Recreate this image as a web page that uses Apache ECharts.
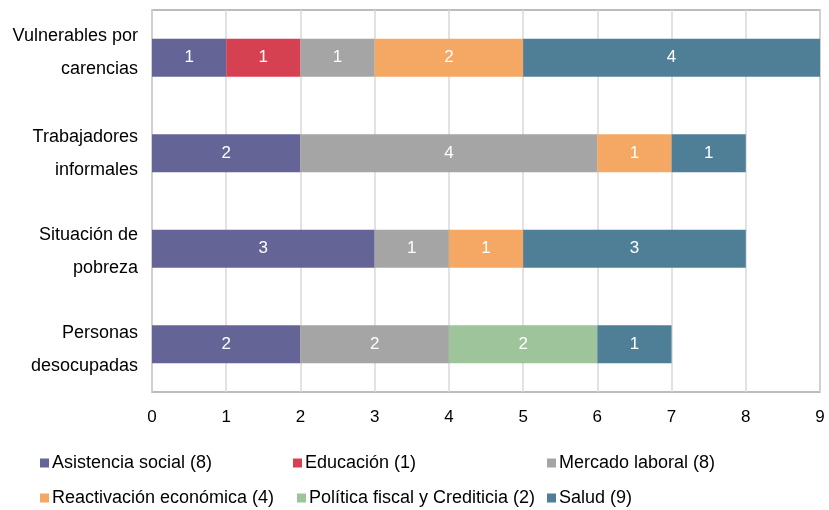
<!DOCTYPE html>
<html><head><meta charset="utf-8">
<script src="https://cdn.jsdelivr.net/npm/echarts@6/dist/echarts.min.js"></script>
<style>html,body{margin:0;padding:0;background:#fff}#c{width:829px;height:510px}</style>
</head><body><div id="c"></div>
<script>
const categories = ['Vulnerables por\ncarencias', 'Trabajadores\ninformales', 'Situación de\npobreza', 'Personas\ndesocupadas'];
const seriesNames = ['Asistencia social (8)', 'Educación (1)', 'Mercado laboral (8)', 'Reactivación económica (4)', 'Política fiscal y Crediticia (2)', 'Salud (9)'];
const asistencia = [1, 2, 3, 2];
const educacion = [1, null, null, null];
const mercado = [1, 4, 1, 2];
const reactivacion = [2, 1, 1, null];
const politica = [null, null, null, 2];
const salud = [4, 1, 3, 1];
const xTicks = [0, 1, 2, 3, 4, 5, 6, 7, 8, 9];

// styling
const colors = ['#646496', '#D64151', '#A5A5A5', '#F4A864', '#9DC49A', '#4E7F97'];
const values = [asistencia, educacion, mercado, reactivacion, politica, salud];
const font = 'Liberation Sans, Arial, sans-serif';
const legendPos = [[35, 449], [288, 449], [542, 449], [35, 484], [292, 484], [542, 484]];
const labelShift = [-5, 0, 3, 5]; // vertical nudge of y-axis labels (px)

function yLabel(v, idx) {
  const lines = v.split('\n').map(s => '{t|' + s + '}');
  const sh = labelShift[idx] || 0;
  if (sh > 0) return '{s' + sh + '| }\n' + lines.join('\n');
  if (sh < 0) return lines.join('\n') + '\n{s' + (-sh) + '| }';
  return lines.join('\n');
}
const rich = { t: { fontSize: 18, fontFamily: font, color: '#000', lineHeight: 33, align: 'right' } };
[3, 5].forEach(k => { rich['s' + k] = { fontSize: 1, lineHeight: 2 * k }; });

const chart = echarts.init(document.getElementById('c'));
chart.setOption({
  animation: false,
  color: colors,
  grid: { left: 152, top: 10, right: 9, bottom: 118, show: true, borderColor: '#A6A6A6', borderWidth: 1.5 },
  xAxis: {
    type: 'value', min: xTicks[0], max: xTicks[xTicks.length - 1], interval: 1,
    axisLine: { show: false }, axisTick: { show: false },
    splitLine: { lineStyle: { color: '#D9D9D9', width: 1.5 } },
    axisLabel: { color: '#000', fontSize: 17, fontFamily: font, margin: 17 }
  },
  yAxis: {
    type: 'category', data: categories, inverse: true,
    axisLine: { show: false }, axisTick: { show: false },
    axisLabel: { color: '#000', fontSize: 18, fontFamily: font, margin: 14, align: 'right', formatter: yLabel, rich: rich }
  },
  legend: seriesNames.map((n, i) => ({
    data: [n], left: legendPos[i][0], top: legendPos[i][1], itemWidth: 9, itemHeight: 9, itemGap: 4,
    icon: 'rect', textStyle: { fontSize: 18, fontFamily: font, color: '#000', padding: [0, 0, 0, -2] }
  })),
  series: seriesNames.map((n, i) => ({
    name: n, type: 'bar', stack: 'total', data: values[i], barCategoryGap: '60%',
    itemStyle: { color: colors[i] },
    label: { show: true, position: 'inside', color: '#fff', fontSize: 17, fontFamily: font,
      formatter: p => (p.value == null ? '' : p.value) }
  }))
});
</script></body></html>
